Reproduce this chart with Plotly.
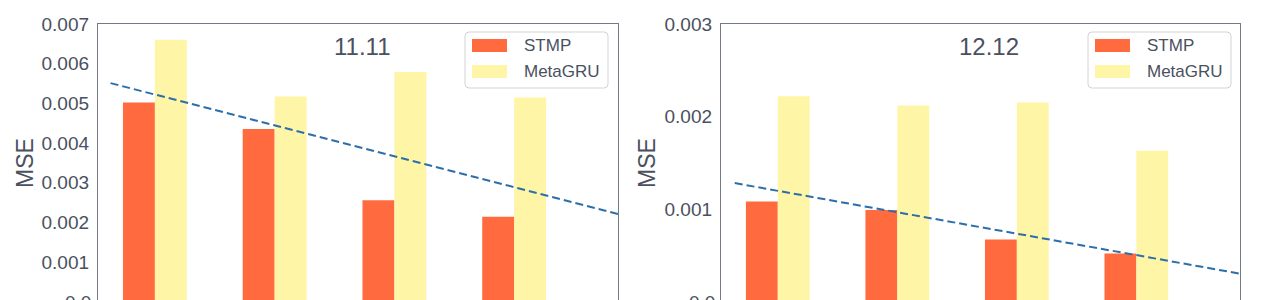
import plotly.graph_objects as go

# ---------------- data ----------------
groups = ["1", "2", "3", "4"]          # category positions (tick labels are cropped in the reference)
series_names = ["STMP", "MetaGRU"]

# panel 1 : 11.11
stmp_1111 = [0.00502, 0.00435, 0.00256, 0.00214]
metagru_1111 = [0.00660, 0.00517, 0.00579, 0.00515]
trend_x_1111 = [-0.37, 3.87]
trend_y_1111 = [0.00551, 0.00221]

# panel 2 : 12.12
stmp_1212 = [0.00108, 0.00099, 0.00067, 0.00052]
metagru_1212 = [0.00222, 0.00212, 0.00215, 0.00163]
trend_x_1212 = [-0.36, 3.87]
trend_y_1212 = [0.00128, 0.00030]

titles = ["11.11", "12.12"]
yticks_1111 = [0.001, 0.002, 0.003, 0.004, 0.005, 0.006, 0.007]
yticks_1212 = [0.001, 0.002, 0.003]
y_label = "MSE"
zero_label = "0.0"

# ---------------- style ----------------
W, H = 1268, 300
C_STMP = "#FF6B3E"
C_META = "#FFF5A6"
C_LINE = "#2B6EA9"
C_TEXT = "#4A5060"
C_FRAME = "#737985"
FONT = "Liberation Sans, Arial, sans-serif"


def X(px):
    return px / W


def Y(py):
    return 1 - py / H


x_positions = list(range(len(groups)))

fig = go.Figure()

panels = [
    dict(stmp=stmp_1111, meta=metagru_1111, tx=trend_x_1111, ty=trend_y_1111,
         xa="x", ya="y", dom=(98, 618), yr=[0.0000424, 0.007], ticks=yticks_1111,
         title=titles[0], title_x=0.508, leg_left=465, zero_right=93, ylab_x=25),
    dict(stmp=stmp_1212, meta=metagru_1212, tx=trend_x_1212, ty=trend_y_1212,
         xa="x2", ya="y2", dom=(721, 1240), yr=[0.0000162, 0.003], ticks=yticks_1212,
         title=titles[1], title_x=0.516, leg_left=1088, zero_right=717, ylab_x=647),
]

bar_w = 0.2667
shapes = []
annotations = []

for i, p in enumerate(panels):
    fig.add_trace(go.Bar(x=[v - bar_w / 2 for v in x_positions], y=p["stmp"], name=series_names[0],
                         width=bar_w, marker=dict(color=C_STMP, line=dict(width=0)),
                         xaxis=p["xa"], yaxis=p["ya"], showlegend=False))
    fig.add_trace(go.Bar(x=[v + bar_w / 2 for v in x_positions], y=p["meta"], name=series_names[1],
                         width=bar_w, marker=dict(color=C_META, line=dict(width=0)),
                         xaxis=p["xa"], yaxis=p["ya"], showlegend=False))
    fig.add_trace(go.Scatter(x=p["tx"], y=p["ty"], mode="lines",
                             line=dict(color=C_LINE, width=2, dash="8px,4px"),
                             xaxis=p["xa"], yaxis=p["ya"], showlegend=False, name="trend"))

    suffix = "" if i == 0 else "2"
    fig.update_layout(**{
        "xaxis" + suffix: dict(domain=[X(p["dom"][0]), X(p["dom"][1])], range=[-0.475, 3.867],
                               side="top", showline=True, mirror=False, linecolor=C_FRAME,
                               linewidth=1.3, showgrid=False, zeroline=False,
                               showticklabels=False, ticks="", anchor="y" + suffix),
        "yaxis" + suffix: dict(domain=[0, Y(24)], range=p["yr"], showline=True, mirror=True,
                               linecolor=C_FRAME, linewidth=1.3, showgrid=False, zeroline=False,
                               tickvals=p["ticks"], tickformat=".3f", ticks="",
                               ticklabelstandoff=4,
                               tickfont=dict(size=19, color=C_TEXT, family=FONT),
                               anchor="x" + suffix),
    })

    # panel title
    annotations.append(dict(text=p["title"], xref="x" + suffix + " domain", x=p["title_x"],
                            yref="paper", y=Y(46), xanchor="center", yanchor="middle",
                            showarrow=False, font=dict(size=24, color=C_TEXT, family=FONT)))
    # y label
    annotations.append(dict(text=y_label, xref="paper", x=X(p["ylab_x"]), yref="paper", y=Y(163),
                            xanchor="center", yanchor="middle", textangle=-90, showarrow=False,
                            font=dict(size=23, color=C_TEXT, family=FONT)))
    # partially visible zero tick label
    annotations.append(dict(text=zero_label, xref="paper", x=X(p["zero_right"]), yref="paper",
                            y=Y(302), xanchor="right", yanchor="middle", showarrow=False,
                            font=dict(size=19, color=C_TEXT, family=FONT)))

    # legend (drawn manually for matplotlib-like swatches)
    l, t, r, b, rad = p["leg_left"], 32, p["leg_left"] + 143, 88, 4
    path = (f"M{X(l + rad)},{Y(t)} L{X(r - rad)},{Y(t)} Q{X(r)},{Y(t)} {X(r)},{Y(t + rad)} "
            f"L{X(r)},{Y(b - rad)} Q{X(r)},{Y(b)} {X(r - rad)},{Y(b)} "
            f"L{X(l + rad)},{Y(b)} Q{X(l)},{Y(b)} {X(l)},{Y(b - rad)} "
            f"L{X(l)},{Y(t + rad)} Q{X(l)},{Y(t)} {X(l + rad)},{Y(t)} Z")
    shapes.append(dict(type="path", path=path, xref="paper", yref="paper",
                       line=dict(color="#D3D3D3", width=1), fillcolor="rgba(255,255,255,0.85)",
                       layer="above"))
    for k, (col, nm, yc) in enumerate([(C_STMP, series_names[0], 45.5), (C_META, series_names[1], 71.5)]):
        shapes.append(dict(type="rect", xref="paper", yref="paper",
                           x0=X(l + 7), x1=X(l + 42), y0=Y(yc - 6.5), y1=Y(yc + 6.5),
                           fillcolor=col, line=dict(width=0), layer="above"))
        annotations.append(dict(text=nm, xref="paper", x=X(l + 57), yref="paper", y=Y(yc),
                                xanchor="left", yanchor="middle", showarrow=False,
                                font=dict(size=17, color=C_TEXT, family=FONT)))

fig.update_layout(
    width=W, height=H,
    margin=dict(l=0, r=0, t=0, b=0),
    template="none",
    plot_bgcolor="white", paper_bgcolor="white",
    barmode="overlay",
    shapes=shapes, annotations=annotations,
    font=dict(family=FONT, color=C_TEXT),
)

fig.write_html("out.html")
